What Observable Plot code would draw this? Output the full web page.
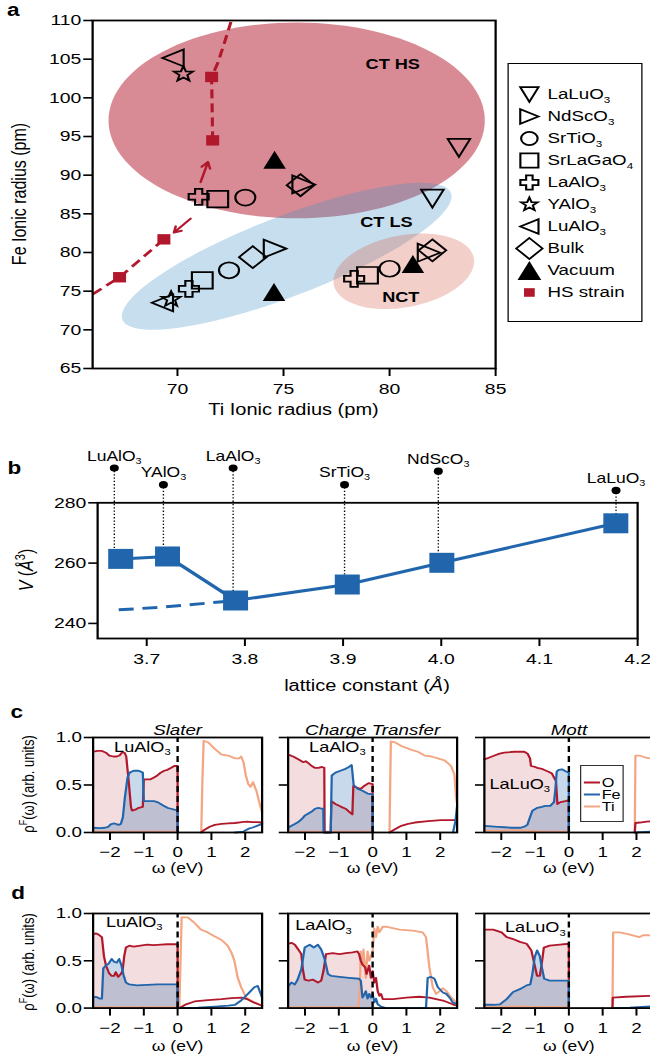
<!DOCTYPE html>
<html>
<head>
<meta charset="utf-8">
<script src="https://cdn.jsdelivr.net/npm/d3@7"></script>
<script src="https://cdn.jsdelivr.net/npm/@observablehq/plot@0.6"></script>
<style>
  body { margin: 0; background: #fff; overflow: hidden; color: #000;
         font-family: 'Liberation Sans', Arial, Helvetica, sans-serif; }
  #fig { position: relative; width: 520px; height: 1061px; transform: scaleX(1.25); transform-origin: 0 0; }
  #fig > * { position: absolute; }
  .lbl { white-space: nowrap; line-height: 1; transform: translate(-50%, -50%); }
  .rot { transform: translate(-50%, -50%) rotate(-90deg); }
  .panel { font-weight: bold; font-size: 18px; }
  .legend { box-sizing: border-box; background: #fff; }
  .legend svg { display: block; }
  sup { font-size: 0.7em; }
</style>
</head>
<body>
<div id="fig"></div>
<script>
const FONT = "'Liberation Sans', Arial, Helvetica, sans-serif";
const RED = "#b2182b", BLUE = "#2166ac", ORANGE = "#f4a582";

// ---------- panel a: ionic radii ----------
const substrates = ["LaLuO3", "NdScO3", "SrTiO3", "SrLaGaO4", "LaAlO3", "YAlO3", "LuAlO3", "Bulk", "Vacuum"];
const substrateLabels = ["LaLuO_3", "NdScO_3", "SrTiO_3", "SrLaGaO_4", "LaAlO_3", "YAlO_3", "LuAlO_3", "Bulk", "Vacuum"];
// charge-transfer high-spin solutions
const ctHsTi = [83.27, 75.95, 73.2, 71.9, 71.0, 70.28, 69.79, 75.8, 74.58];
const ctHsFe = [93.53, 88.8, 87.1, 86.9, 87.2, 103.07, 105.16, 88.7, 92.0];
// charge-transfer low-spin solutions
const ctLsTi = [82.02, 74.6, 72.43, 71.17, 70.54, 69.7, 69.29, 73.55, 74.55];
const ctLsFe = [86.96, 80.5, 77.7, 76.4, 75.3, 73.95, 73.5, 79.4, 74.9];
// non-charge-transfer solutions
const nctTi = [null, 81.86, 80.0, 78.96, 78.33, null, null, 82.02, 81.1];
const nctFe = [null, 79.98, 77.9, 77.05, 76.6, null, null, 80.28, 78.5];
// high-spin strain series
const hsStrainTi = [67.27, 69.36, 71.66, 71.61];
const hsStrainFe = [76.8, 81.7, 94.5, 102.7];
const strainLowTi = [66.0, 67.27, 69.36];
const strainLowFe = [74.6, 76.8, 81.7];
const strainHighTi = [71.66, 71.61, 71.9, 72.2, 72.52];
const strainHighFe = [94.5, 102.7, 104.5, 107.0, 109.8];
const arrowFromTi = [71.09, 70.62], arrowFromFe = [89.1, 84.38];
const arrowToTi = [71.44, 69.83], arrowToFe = [91.7, 82.57];
// regime regions: centre and two conjugate semi-axes (Ti, Fe)
const regionNames = ["CT HS", "CT LS", "NCT"];
const regionCenterTi = [75.62, 75.15, 80.67];
const regionCenterFe = [97.08, 79.51, 77.57];
const regionAxisA = [[8.87, 0], [7.745, 8.19], [3.30, 1.72]];
const regionAxisB = [[0, 12.66], [0.679, -4.82], [0.316, -4.57]];
const regionLabelTi = [80.15, 79.85, 80.53];
const regionLabelFe = [104.3, 83.86, 74.25];
const tiTicks = [70, 75, 80, 85];
const feTicks = [65, 70, 75, 80, 85, 90, 95, 100, 105, 110];

// ---------- panel b: volume vs lattice constant ----------
const bSubstrates = ["LuAlO_3", "YAlO_3", "LaAlO_3", "SrTiO_3", "NdScO_3", "LaLuO_3"];
const bLattice = [3.667, 3.717, 3.788, 3.9015, 3.997, 4.178];
const bTagV = [291.5, 286.0, 291.5, 286.0, 290.5, 284.1];
const bMarkerX = [3.6735, 3.7212, 3.7905, 3.9043, 4.0006, 4.1778];
const bVolume = [261.4, 262.2, 247.6, 252.9, 260.1, 273.2];
const bDashX = [3.6715, 3.7158, 3.785];
const bDashV = [244.5, 245.4, 247.4];
const latticeTicks = [3.7, 3.8, 3.9, 4.0, 4.1, 4.2];
const volumeTicks = [240, 260, 280];

// ---------- panels c, d: projected spectral functions [omega, rho] ----------
const c1_O = [[-2.5,0.85],[-2.38,0.86],[-2.25,0.86],[-2.12,0.84],[-2.02,0.81],[-1.9,0.80],[-1.8,0.80],[-1.72,0.81],[-1.65,0.84],[-1.57,0.84],[-1.52,0.80],[-1.45,0.55],[-1.38,0.27],[-1.35,0.23],[-1.25,0.24],[-1.15,0.26],[-1.03,0.27],[-1.0,0.56],[-0.9,0.56],[-0.8,0.56],[-0.7,0.58],[-0.6,0.60],[-0.5,0.63],[-0.4,0.65],[-0.3,0.66],[-0.2,0.68],[-0.1,0.70],[0,0.70],[0,0],[0.05,NaN],[0.7,0],[0.8,0.03],[0.95,0.06],[1.1,0.08],[1.3,0.09],[1.5,0.095],[1.7,0.1],[1.9,0.11],[2.05,0.115],[2.2,0.11],[2.35,0.11],[2.5,0.105]];
const c1_Fe = [[-2.5,0.05],[-2.3,0.045],[-2.15,0.05],[-2.05,0.06],[-1.98,0.085],[-1.9,0.095],[-1.82,0.09],[-1.75,0.08],[-1.68,0.09],[-1.62,0.16],[-1.56,0.37],[-1.48,0.58],[-1.42,0.63],[-1.3,0.65],[-1.15,0.65],[-1.03,0.63],[-1.0,0.33],[-0.9,0.33],[-0.8,0.33],[-0.7,0.33],[-0.6,0.32],[-0.5,0.30],[-0.4,0.28],[-0.3,0.26],[-0.2,0.25],[-0.1,0.24],[0,0.235],[0,0],[0.05,NaN],[1.7,0],[1.95,0.01],[2.1,0.04],[2.2,0.05],[2.35,0.07],[2.5,0.09]];
const c1_Ti = [[-2.5,0.01],[-1.0,0.01],[0,0.01],[0,0],[0.05,NaN],[0.7,0],[0.73,0.5],[0.77,0.965],[0.9,0.95],[1.1,0.88],[1.3,0.82],[1.5,0.81],[1.7,0.78],[1.82,0.78],[1.88,0.80],[1.95,0.74],[2.02,0.6],[2.09,0.51],[2.16,0.48],[2.23,0.53],[2.33,0.44],[2.43,0.30],[2.5,0.21]];

const c2_O = [[-2.5,0.82],[-2.35,0.80],[-2.2,0.77],[-2.05,0.74],[-1.98,0.75],[-1.9,0.73],[-1.8,0.70],[-1.7,0.68],[-1.6,0.68],[-1.5,0.69],[-1.43,0.68],[-1.42,0],[-1.24,0],[-1.22,0.33],[-1.1,0.30],[-0.93,0.27],[-0.8,0.25],[-0.7,0.22],[-0.6,0.19],[-0.57,0.49],[-0.45,0.47],[-0.35,0.46],[-0.25,0.49],[-0.12,0.52],[0,0.51],[0,0],[0.05,NaN],[0.5,0],[0.66,0.035],[0.85,0.07],[1.05,0.09],[1.25,0.105],[1.64,0.12],[2.03,0.13],[2.5,0.13]];
const c2_Fe = [[-2.5,0.05],[-2.4,0.07],[-2.3,0.09],[-2.2,0.11],[-2.1,0.14],[-2.0,0.18],[-1.9,0.20],[-1.8,0.22],[-1.7,0.25],[-1.6,0.26],[-1.5,0.25],[-1.46,0.25],[-1.45,0],[-1.24,0],[-1.21,0.60],[-1.1,0.63],[-0.95,0.65],[-0.8,0.67],[-0.7,0.69],[-0.62,0.71],[-0.56,0.50],[-0.45,0.46],[-0.3,0.44],[-0.15,0.41],[0,0.40],[0,0],[0.05,NaN],[2.38,0],[2.45,0.12],[2.5,0.28]];
const c2_Ti = [[-2.5,0.01],[0,0.01],[0,0],[0.05,NaN],[0.5,0],[0.52,0.5],[0.54,0.96],[0.66,0.95],[0.85,0.91],[1.15,0.87],[1.34,0.85],[1.54,0.81],[1.74,0.80],[1.93,0.78],[2.13,0.76],[2.32,0.70],[2.42,0.61],[2.47,0.37],[2.5,0.30]];

const c3_O = [[-2.5,0.77],[-2.35,0.79],[-2.2,0.81],[-2.05,0.83],[-1.91,0.84],[-1.75,0.845],[-1.62,0.85],[-1.47,0.85],[-1.32,0.85],[-1.22,0.83],[-1.15,0.78],[-1.12,0.70],[-1.0,0.69],[-0.93,0.68],[-0.8,0.67],[-0.74,0.66],[-0.6,0.64],[-0.5,0.62],[-0.44,0.58],[-0.38,0.54],[-0.34,0.30],[-0.25,0.32],[-0.1,0.33],[0,0.34],[0,0],[0.05,NaN],[1.95,0],[1.97,0.10],[2.1,0.105],[2.3,0.115],[2.5,0.12]];
const c3_Fe = [[-2.5,0.07],[-2.3,0.065],[-2.1,0.06],[-1.9,0.055],[-1.7,0.05],[-1.5,0.05],[-1.42,0.05],[-1.3,0.065],[-1.23,0.08],[-1.15,0.16],[-1.08,0.23],[-0.93,0.26],[-0.8,0.27],[-0.7,0.28],[-0.55,0.28],[-0.44,0.32],[-0.40,0.45],[-0.36,0.64],[-0.3,0.66],[-0.2,0.665],[-0.1,0.645],[0,0.63],[0,0],[0.05,NaN],[1.95,0],[2.5,0.01]];
const c3_Ti = [[-2.5,0.02],[-2.0,0.02],[-1.5,0.025],[-1.2,0.02],[-0.8,0.01],[0,0.01],[0,0],[0.05,NaN],[1.95,0],[1.97,0.81],[2.1,0.81],[2.25,0.79],[2.4,0.78],[2.5,0.77]];

const d1_O = [[-2.5,0.78],[-2.42,0.79],[-2.35,0.78],[-2.28,0.76],[-2.24,0.75],[-2.18,0.55],[-2.12,0.45],[-2.03,0.37],[-1.95,0.34],[-1.88,0.34],[-1.83,0.38],[-1.76,0.33],[-1.68,0.36],[-1.63,0.39],[-1.58,0.55],[-1.53,0.64],[-1.43,0.66],[-1.3,0.65],[-1.1,0.66],[-0.9,0.67],[-0.7,0.665],[-0.5,0.67],[-0.3,0.675],[-0.1,0.675],[0,0.675],[0,0],[0.05,NaN],[0.06,0],[0.25,0.04],[0.5,0.07],[0.9,0.085],[1.3,0.095],[1.6,0.105],[1.9,0.11],[2.05,0.095],[2.25,0.06],[2.5,0.025]];
const d1_Fe = [[-2.5,0.11],[-2.42,0.12],[-2.3,0.10],[-2.24,0.10],[-2.2,0.42],[-2.12,0.45],[-2.04,0.47],[-1.95,0.52],[-1.88,0.49],[-1.8,0.48],[-1.73,0.52],[-1.66,0.45],[-1.6,0.35],[-1.53,0.27],[-1.43,0.25],[-1.2,0.24],[-0.9,0.245],[-0.6,0.25],[-0.3,0.25],[0,0.25],[0,0],[0.05,NaN],[0.06,0],[0.6,0.005],[1.1,0.015],[1.5,0.025],[1.7,0.035],[1.88,0.08],[2.08,0.15],[2.27,0.22],[2.37,0.235],[2.5,0.11]];
const d1_Ti = [[-2.5,0.01],[0,0.01],[0,0],[0.04,NaN],[0.05,0],[0.12,0.96],[0.3,0.96],[0.5,0.90],[0.69,0.83],[0.89,0.80],[1.09,0.76],[1.3,0.72],[1.48,0.66],[1.6,0.58],[1.68,0.50],[1.78,0.32],[1.88,0.22],[2.03,0.11],[2.27,0.06],[2.5,0.025]];

const d2_O = [[-2.5,0.68],[-2.4,0.69],[-2.3,0.67],[-2.2,0.62],[-2.11,0.57],[-2.06,0.40],[-2.01,0.30],[-1.9,0.29],[-1.76,0.30],[-1.62,0.27],[-1.52,0.29],[-1.45,0.40],[-1.38,0.57],[-1.18,0.58],[-0.98,0.57],[-0.79,0.58],[-0.59,0.59],[-0.45,0.60],[-0.4,0.57],[-0.35,0.50],[-0.3,0.46],[-0.22,0.43],[-0.18,0.36],[-0.1,0.45],[-0.05,0.32],[0,0.39],[0.05,0.27],[0.1,0.32],[0.15,0.18],[0.2,0.13],[0.25,0.15],[0.3,0.095],[0.6,0.095],[1.0,0.11],[1.38,0.12],[1.68,0.11],[1.88,0.095],[2.08,0.08],[2.37,0.04],[2.5,0.025]];
const d2_Fe = [[-2.5,0.23],[-2.4,0.27],[-2.3,0.25],[-2.22,0.30],[-2.11,0.41],[-2.01,0.64],[-1.86,0.67],[-1.74,0.64],[-1.62,0.67],[-1.52,0.62],[-1.42,0.52],[-1.32,0.36],[-1.22,0.34],[-0.98,0.33],[-0.7,0.32],[-0.4,0.31],[-0.35,0.29],[-0.3,0.11],[-0.25,0.14],[-0.2,0.18],[-0.15,0.10],[-0.1,0.15],[-0.05,0.11],[0,0.15],[0.05,0.06],[0.1,0.10],[0.15,0.04],[0.25,0.015],[0.4,0],[1.58,0],[1.63,0.32],[1.73,0.33],[1.83,0.31],[1.93,0.22],[2.08,0.165],[2.18,0.15],[2.28,0.11],[2.37,0.06],[2.5,0.04]];
const d2_Ti = [[-2.5,0.01],[-0.42,0.01],[-0.38,0.2],[-0.35,0.60],[-0.3,0.46],[-0.27,0.62],[-0.2,0.32],[-0.15,0.60],[-0.1,0.50],[-0.05,0.55],[0,0.6],[0.05,0.84],[0.1,0.75],[0.15,0.86],[0.2,0.80],[0.3,0.86],[0.4,0.86],[0.79,0.83],[1.19,0.82],[1.48,0.80],[1.58,0.75],[1.68,0.43],[1.78,0.22],[1.88,0.15],[1.98,0.18],[2.08,0.21],[2.18,0.18],[2.33,0.11],[2.5,0.05]];

const d3_O = [[-2.5,0.83],[-2.24,0.83],[-1.99,0.80],[-1.84,0.75],[-1.65,0.73],[-1.45,0.70],[-1.25,0.68],[-1.11,0.61],[-1.01,0.45],[-0.94,0.34],[-0.86,0.34],[-0.81,0.45],[-0.74,0.64],[-0.57,0.66],[-0.27,0.67],[0,0.68],[0,0],[0.05,NaN],[1.29,0],[1.3,0.11],[1.7,0.12],[2.37,0.13],[2.5,0.13]];
const d3_Fe = [[-2.5,0.035],[-2.24,0.035],[-2.04,0.04],[-1.84,0.095],[-1.65,0.17],[-1.45,0.20],[-1.25,0.24],[-1.14,0.25],[-1.08,0.36],[-1.01,0.54],[-0.94,0.61],[-0.86,0.55],[-0.81,0.45],[-0.73,0.31],[-0.57,0.29],[-0.27,0.29],[0,0.29],[0,0],[0.05,NaN],[1.29,0],[1.8,0.005],[2.5,0.02]];
const d3_Ti = [[-2.5,0.01],[-1.6,0.015],[-1.4,0.02],[-1.2,0.015],[0,0.01],[0,0],[0.05,NaN],[1.29,0],[1.31,0.80],[1.5,0.80],[1.78,0.78],[2.08,0.75],[2.2,0.77],[2.37,0.77],[2.5,0.76]];

const omegaTicks = [-2, -1, 0, 1, 2];
const rhoTicks = [0, 0.5, 1];
const elements = ["O", "Fe", "Ti"];

// ---------- marker shapes (half-size h = r, Plot passes area π r²) ----------
function shape(pts) {
  return {draw(ctx, size) {
    const h = Math.sqrt(size / Math.PI);
    pts.forEach(([x, y], i) => i ? ctx.lineTo(x * h, y * h) : ctx.moveTo(x * h, y * h));
    ctx.closePath();
  }};
}
const starPts = d3.range(10).map(k => {
  const a = -Math.PI / 2 + k * Math.PI / 5, r = k % 2 ? 0.42 : 1;
  return [r * Math.cos(a), r * Math.sin(a)];
});
const sym = {
  triDown: shape([[0, 1], [-1, -1], [1, -1]]),
  triUp: shape([[0, -1], [-1, 1], [1, 1]]),
  triRight: shape([[1, 0], [-1, -1], [-1, 1]]),
  triLeft: shape([[-1, 0], [1, -1], [1, 1]]),
  square: shape([[-1, -1], [1, -1], [1, 1], [-1, 1]]),
  diamond: shape([[0, -1], [1, 0], [0, 1], [-1, 0]]),
  plus: shape([[-.36, -1], [.36, -1], [.36, -.36], [1, -.36], [1, .36], [.36, .36], [.36, 1], [-.36, 1], [-.36, .36], [-1, .36], [-1, -.36], [-.36, -.36]]),
  star: shape(starPts),
  circle: {draw(ctx, size) { const h = Math.sqrt(size / Math.PI); ctx.moveTo(h, 0); ctx.arc(0, 0, h, 0, 2 * Math.PI); }}
};
const markerShape = {LaLuO3: sym.triDown, NdScO3: sym.triRight, SrTiO3: sym.circle, SrLaGaO4: sym.square,
  LaAlO3: sym.plus, YAlO3: sym.star, LuAlO3: sym.triLeft, Bulk: sym.diamond, Vacuum: sym.triUp};
const markerR = {LaLuO3: 9, NdScO3: 9, SrTiO3: 8, SrLaGaO4: 8.3, LaAlO3: 8, YAlO3: 8, LuAlO3: 8.5, Bulk: 11, Vacuum: 9};
const legendR = {LaLuO3: 7.3, NdScO3: 7.3, SrTiO3: 6.6, SrLaGaO4: 7.2, LaAlO3: 7.2, YAlO3: 7, LuAlO3: 7.3, Bulk: 10.5, Vacuum: 9.5};

const baseStyle = {fontFamily: FONT, fontSize: "15px", background: "transparent", overflow: "visible", maxWidth: "none", color: "black"};
const fig = document.getElementById("fig");

// chemical-formula subscripts written as "_n"
function subscripts(root) {
  root.querySelectorAll("text").forEach(t => {
    if (t.children.length) return;
    const s = t.textContent, i = s.indexOf("_");
    if (i < 0) return;
    t.textContent = s.slice(0, i);
    const ts = document.createElementNS("http://www.w3.org/2000/svg", "tspan");
    ts.setAttribute("font-size", "0.62em");
    ts.setAttribute("dy", "0.36em");
    ts.textContent = s.slice(i + 1);
    t.appendChild(ts);
  });
}
function place(el, left, top) {
  el.style.left = left + "px";
  el.style.top = top + "px";
  fig.appendChild(el);
  subscripts(el);
  return el;
}
function label(html, x, y, size, cls = "") {
  const d = document.createElement("div");
  d.className = "lbl " + cls;
  d.innerHTML = html;
  d.style.fontSize = size + "px";
  place(d, x, y);
}

// ---------- panel a ----------
const regionColors = [RED, "#4393c3", "#d6604d"];
const regionOpacity = [0.5, 0.3, 0.3];
const regionOutline = regionNames.map((_, j) => d3.range(121).map(k => {
  const t = k / 120 * 2 * Math.PI, A = regionAxisA[j], B = regionAxisB[j];
  return {ti: regionCenterTi[j] + A[0] * Math.cos(t) + B[0] * Math.sin(t),
          fe: regionCenterFe[j] + A[1] * Math.cos(t) + B[1] * Math.sin(t)};
}));
const aPoints = [];
substrates.forEach((s, i) => {
  [[ctHsTi, ctHsFe], [ctLsTi, ctLsFe], [nctTi, nctFe]].forEach(([T, F]) => {
    if (T[i] != null) aPoints.push({s, ti: T[i], fe: F[i]});
  });
});
const idx = a => a.map((_, i) => i);

const plotA = Plot.plot({
  width: 520, height: 430, marginLeft: 73.6, marginRight: 124, marginTop: 20, marginBottom: 62,
  x: {domain: [66, 85]}, y: {domain: [65, 110]},
  style: baseStyle,
  marks: [
    ...regionOutline.map((pts, j) => Plot.line(pts, {x: "ti", y: "fe", fill: regionColors[j], fillOpacity: regionOpacity[j], stroke: "none"})),
    Plot.text(regionNames, {x: (d, i) => regionLabelTi[i], y: (d, i) => regionLabelFe[i], fontWeight: "bold", fontSize: 14.5}),
    Plot.line(idx(strainLowTi), {x: i => strainLowTi[i], y: i => strainLowFe[i], stroke: RED, strokeWidth: 2.5, strokeDasharray: "9,5", strokeLinecap: "butt"}),
    Plot.line(idx(strainHighTi), {x: i => strainHighTi[i], y: i => strainHighFe[i], stroke: RED, strokeWidth: 2.5, strokeDasharray: "9,5", strokeLinecap: "butt"}),
    Plot.arrow(idx(arrowFromTi), {x1: i => arrowFromTi[i], y1: i => arrowFromFe[i], x2: i => arrowToTi[i], y2: i => arrowToFe[i], stroke: RED, strokeWidth: 2, headLength: 8}),
    Plot.dot(idx(hsStrainTi), {x: i => hsStrainTi[i], y: i => hsStrainFe[i], symbol: sym.square, r: 5.2, fill: RED, stroke: "none"}),
    ...substrates.map(s => Plot.dot(aPoints.filter(p => p.s === s), {
      x: "ti", y: "fe", symbol: markerShape[s], r: markerR[s],
      fill: s === "Vacuum" ? "black" : "none", stroke: "black", strokeWidth: s === "Vacuum" ? 0 : 1.7
    })),
    Plot.axisX({ticks: tiTicks, tickSize: 8, tickPadding: 6, tickFormat: d3.format("d"), fontSize: 15.5, strokeWidth: 1.6, label: null}),
    Plot.axisY({ticks: feTicks, tickSize: 7, tickPadding: 2, tickFormat: d3.format("d"), fontSize: 15.5, strokeWidth: 1.6, label: null}),
    Plot.frame({strokeWidth: 1.8})
  ]
});
place(plotA, 0, 0);

// legend of panel a
const legendNames = [...substrates, "HS strain"];
const legendText = [...substrateLabels, "HS strain"];
const legA = document.createElement("div");
legA.className = "legend";
legA.style.border = "1.7px solid black";
legA.style.width = "108px";
legA.style.height = "259px";
legA.appendChild(Plot.plot({
  width: 104.6, height: 255.6, margin: 0,
  x: {type: "identity", axis: null},
  y: {type: "point", domain: legendNames, range: [17.5, 240.5], axis: null},
  style: baseStyle,
  marks: [
    ...substrates.map(s => Plot.dot([s], {x: 16, y: d => d, symbol: markerShape[s], r: legendR[s],
      fill: s === "Vacuum" ? "black" : "none", stroke: "black", strokeWidth: s === "Vacuum" ? 0 : 1.7})),
    Plot.dot(["HS strain"], {x: 16, y: d => d, symbol: sym.square, r: 4.3, fill: RED, stroke: "none"}),
    Plot.text(legendNames, {x: 30.5, y: d => d, text: (d, i) => legendText[i], textAnchor: "start", fontSize: 15})
  ]
}));
place(legA, 406.4, 63);

label("a", 10.6, 9.5, 18, "panel");
label("Fe Ionic radius (pm)", 16, 194, 16, "rot");
label("Ti Ionic radius (pm)", 234.8, 410, 16);

// ---------- panel b ----------
const bIdx = idx(bSubstrates);
const plotB = Plot.plot({
  width: 520, height: 260, marginLeft: 77.6, marginRight: 10.4, marginTop: 62.3, marginBottom: 62,
  x: {domain: [3.65, 4.2]}, y: {domain: [235, 280]},
  style: baseStyle,
  marks: [
    Plot.ruleX(bIdx, {x: i => bLattice[i], y1: i => bTagV[i], y2: i => bVolume[i], stroke: "black", strokeWidth: 1.1, strokeDasharray: "1.3,2"}),
    Plot.line(idx(bDashX), {x: i => bDashX[i], y: i => bDashV[i], stroke: BLUE, strokeWidth: 3, strokeDasharray: "12,7", strokeLinecap: "butt"}),
    Plot.line(bIdx, {x: i => bMarkerX[i], y: i => bVolume[i], stroke: BLUE, strokeWidth: 3}),
    Plot.dot(bIdx, {x: i => bMarkerX[i], y: i => bVolume[i], symbol: sym.square, r: 10, fill: BLUE, stroke: "none"}),
    Plot.dot(bIdx, {x: i => bLattice[i], y: i => bTagV[i], r: 3.6, fill: "black", stroke: "none"}),
    Plot.text(bIdx, {x: i => bLattice[i], y: i => bTagV[i], text: i => bSubstrates[i], dy: -12, fontSize: 14}),
    Plot.axisX({ticks: latticeTicks, tickSize: 8, tickPadding: 6, tickFormat: d3.format(".1f"), fontSize: 15.5, strokeWidth: 1.6, label: null}),
    Plot.axisY({ticks: volumeTicks, tickSize: 7, tickPadding: 2, tickFormat: d3.format("d"), fontSize: 15.5, strokeWidth: 1.6, label: null}),
    Plot.frame({strokeWidth: 1.8})
  ]
});
place(plotB, 0, 440);
label("b", 11.6, 468, 18, "panel");
label("<i>V</i> (<i>Å</i><sup>3</sup>)", 20, 570, 16, "rot");
label("lattice constant (<i>Å</i>)", 293.6, 686, 16);

// ---------- panels c, d ----------
const FRAME_W = 135.2;
function dosPlot(p) {
  const W = d => d[0], R = d => d[1];
  const occ = a => a.filter(d => d[0] <= 0 && !isNaN(d[1]));
  return Plot.plot({
    width: FRAME_W + 60, height: p.frameH + 97, marginLeft: 50, marginRight: 10, marginTop: 37, marginBottom: 60,
    x: {domain: [-2.5, 2.5]}, y: {domain: [0, 1]},
    style: baseStyle,
    marks: [
      Plot.areaY(occ(p.O), {x: W, y1: 0, y2: R, fill: RED, fillOpacity: 0.15}),
      Plot.areaY(occ(p.Fe), {x: W, y1: 0, y2: R, fill: BLUE, fillOpacity: 0.25}),
      Plot.line(p.Ti, {x: W, y: R, stroke: ORANGE, strokeWidth: 1.8}),
      Plot.line(p.O, {x: W, y: R, stroke: RED, strokeWidth: 1.8}),
      Plot.line(p.Fe, {x: W, y: R, stroke: BLUE, strokeWidth: 1.8}),
      Plot.ruleX([0], {y1: 0, y2: 1, stroke: "black", strokeWidth: 1.9, strokeDasharray: "6,4"}),
      Plot.text([p.mat], {x: p.matAt[0], y: p.matAt[1], textAnchor: "start", fontSize: 14.5}),
      p.title ? Plot.text([p.title], {frameAnchor: "top", dy: -12.7, fontSize: 15, fontStyle: "italic"}) : null,
      Plot.text(["ω (eV)"], {frameAnchor: "bottom", dy: p.xLabelDy, fontSize: 14}),
      Plot.axisX({ticks: omegaTicks, tickSize: 8, tickPadding: 6, tickFormat: d3.format("d"), fontSize: 15, strokeWidth: 1.6, label: null}),
      Plot.axisY({ticks: rhoTicks, tickSize: 7, tickPadding: 2, tickFormat: p.yLabels ? d3.format(".1f") : () => "", fontSize: 15, strokeWidth: 1.6, label: null}),
      Plot.frame({strokeWidth: 1.8})
    ]
  });
}
const dosPanels = [
  {O: c1_O, Fe: c1_Fe, Ti: c1_Ti, mat: "LuAlO_3", matAt: [-1.88, 0.895], title: "Slater", left: 73.6, top: 736.7, frameH: 95, yLabels: true, xLabelDy: 40.3},
  {O: c2_O, Fe: c2_Fe, Ti: c2_Ti, mat: "LaAlO_3", matAt: [-1.88, 0.895], title: "Charge Transfer", left: 230, top: 736.7, frameH: 95, yLabels: false, xLabelDy: 40.3},
  {O: c3_O, Fe: c3_Fe, Ti: c3_Ti, mat: "LaLuO_3", matAt: [-2.35, 0.51], title: "Mott", left: 387, top: 736.7, frameH: 95, yLabels: false, xLabelDy: 40.3},
  {O: d1_O, Fe: d1_Fe, Ti: d1_Ti, mat: "LuAlO_3", matAt: [-2.12, 0.905], title: null, left: 73.6, top: 912.7, frameH: 94.6, yLabels: true, xLabelDy: 42.7},
  {O: d2_O, Fe: d2_Fe, Ti: d2_Ti, mat: "LaAlO_3", matAt: [-2.29, 0.87], title: null, left: 230, top: 912.7, frameH: 94.6, yLabels: false, xLabelDy: 42.7},
  {O: d3_O, Fe: d3_Fe, Ti: d3_Ti, mat: "LaLuO_3", matAt: [-1.89, 0.85], title: null, left: 387, top: 912.7, frameH: 94.6, yLabels: false, xLabelDy: 42.7}
];
dosPanels.forEach(p => place(dosPlot(p), p.left - 50, p.top - 37));

// element legend inside the Mott panel
const elementColors = [RED, BLUE, ORANGE];
const legC = document.createElement("div");
legC.className = "legend";
legC.style.border = "1px solid #333";
legC.style.width = "35px";
legC.style.height = "57px";
legC.appendChild(Plot.plot({
  width: 33, height: 55, margin: 0,
  x: {type: "identity", axis: null},
  y: {type: "point", domain: elements, range: [8.5, 46.5], axis: null},
  style: baseStyle,
  marks: [
    ...elements.map((e, i) => Plot.link([e], {x1: 1.6, x2: 14.5, y1: d => d, y2: d => d, stroke: elementColors[i], strokeWidth: 2})),
    Plot.text(elements, {x: 15.8, y: d => d, textAnchor: "start", fontSize: 13})
  ]
}));
place(legC, 464, 764.5);

label("c", 13.4, 711.7, 18, "panel");
label("d", 14.6, 892.7, 18, "panel");
label("ρ<sup>F</sup>(ω) (arb. units)", 22.4, 784, 13, "rot");
label("ρ<sup>F</sup>(ω) (arb. units)", 22.4, 961.7, 13, "rot");
</script>
</body>
</html>
